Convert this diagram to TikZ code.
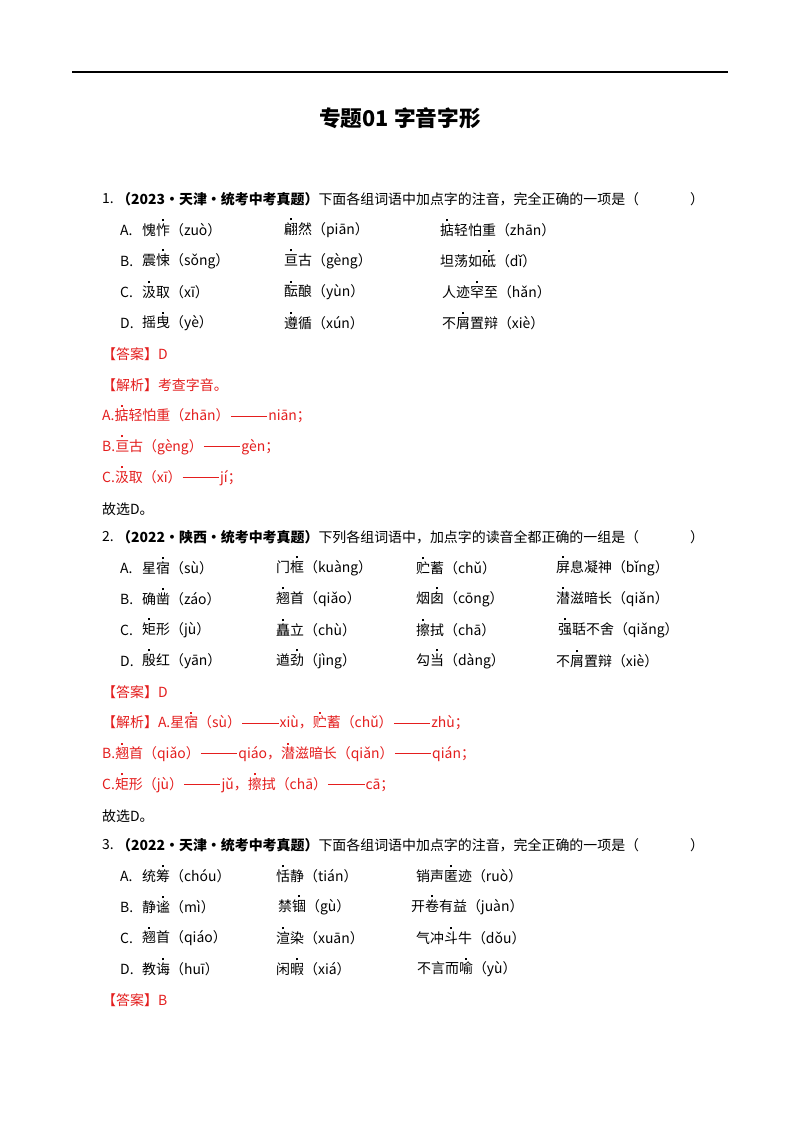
\documentclass[tikz,border=0pt]{standalone}
\usepackage{fontspec}
\setmainfont{Noto Sans CJK SC}
\usepackage{graphicx}
\definecolor{ansred}{RGB}{228,30,30}
\newcommand\dc[1]{\leavevmode\rlap{\makebox[1em][c]{\raisebox{1.0em}[0pt][0pt]{\rule{1.7pt}{1.7pt}}}}#1}
\newcommand\ddash{\kern1pt\raisebox{0.33em}{\rule{2.6em}{0.6pt}}\kern1pt}
\tikzset{t/.style={anchor=west,inner sep=0pt,font=\fontsize{11.9pt}{14pt}\selectfont},
 r/.style={t,text=ansred}}
\begin{document}
\begin{tikzpicture}[x=0.03cm,y=-0.03cm]
\useasboundingbox (0,0) rectangle (800,1132);
\fill[white] (0,0) rectangle (800,1132);
\draw[line width=1.6pt] (72,72) -- (728,72);
\node[inner sep=0pt,font=\fontsize{18.5pt}{22pt}\selectfont\bfseries] (title) at (400,118) {专题01 字音字形};
% Q1
\node[t] (q1n) at (102,199) {1.};
\node[t] (q1h) at (117,199) {\textbf{（2023•天津•统考中考真题）}下面各组词语中加点字的注音，完全正确的一项是（};
\node[t] (q1e) at (690,199) {）};
\node[t] (q1A) at (120,230) {A.};
\node[t] (q1A1) at (142,230) {愧\dc{怍}（zuò）};
\node[t] (q1A2) at (284,230) {\dc{翩}然（piān）};
\node[t] (q1A3) at (440,230) {\dc{掂}轻怕重（zhān）};
\node[t] (q1B) at (120,261) {B.};
\node[t] (q1B1) at (142,261) {震\dc{悚}（sǒng）};
\node[t] (q1B2) at (284,261) {\dc{亘}古（gèng）};
\node[t] (q1B3) at (440,261) {坦荡如\dc{砥}（dǐ）};
\node[t] (q1C) at (120,292) {C.};
\node[t] (q1C1) at (142,292) {\dc{汲}取（xī）};
\node[t] (q1C2) at (284,292) {\dc{酝}酿（yùn）};
\node[t] (q1C3) at (442,292) {人迹\dc{罕}至（hǎn）};
\node[t] (q1D) at (120,323) {D.};
\node[t] (q1D1) at (142,323) {摇\dc{曳}（yè）};
\node[t] (q1D2) at (284,323) {\dc{遵}循（xún）};
\node[t] (q1D3) at (442,323) {不\dc{屑}置辩（xiè）};
\node[r] (q1ans) at (102,354) {【答案】D};
\node[r] (q1jx) at (102,385) {【解析】考查字音。};
\node[r] (q1j1) at (102,416) {A.\dc{掂}轻怕重（zhān）\ddash niān；};
\node[r] (q1j2) at (102,447) {B.\dc{亘}古（gèng）\ddash gèn；};
\node[r] (q1j3) at (102,478) {C.\dc{汲}取（xī）\ddash jí；};
\node[t] (q1g) at (102,509) {故选D。};
% Q2
\node[t] (q2n) at (102,537) {2.};
\node[t] (q2h) at (117,537) {\textbf{（2022•陕西•统考中考真题）}下列各组词语中，加点字的读音全都正确的一组是（};
\node[t] (q2e) at (690,537) {）};
\node[t] (q2A) at (120,568) {A.};
\node[t] (q2A1) at (142,568) {星\dc{宿}（sù）};
\node[t] (q2A2) at (276,568) {门\dc{框}（kuàng）};
\node[t] (q2A3) at (416,568) {\dc{贮}蓄（chǔ）};
\node[t] (q2A4) at (556,568) {\dc{屏}息凝神（bǐng）};
\node[t] (q2B) at (120,599) {B.};
\node[t] (q2B1) at (142,599) {确\dc{凿}（záo）};
\node[t] (q2B2) at (276,599) {\dc{翘}首（qiǎo）};
\node[t] (q2B3) at (416,599) {烟\dc{囱}（cōng）};
\node[t] (q2B4) at (556,599) {\dc{潜}滋暗长（qiǎn）};
\node[t] (q2C) at (120,630) {C.};
\node[t] (q2C1) at (142,630) {\dc{矩}形（jù）};
\node[t] (q2C2) at (276,630) {\dc{矗}立（chù）};
\node[t] (q2C3) at (416,630) {\dc{擦}拭（chā）};
\node[t] (q2C4) at (558,630) {\dc{强}聒不舍（qiǎng）};
\node[t] (q2D) at (120,661) {D.};
\node[t] (q2D1) at (142,661) {\dc{殷}红（yān）};
\node[t] (q2D2) at (276,661) {遒\dc{劲}（jìng）};
\node[t] (q2D3) at (416,661) {勾\dc{当}（dàng）};
\node[t] (q2D4) at (556,661) {不\dc{屑}置辩（xiè）};
\node[r] (q2ans) at (102,692) {【答案】D};
\node[r] (q2j1) at (102,723) {【解析】A.星\dc{宿}（sù）\ddash xiù，\dc{贮}蓄（chǔ）\ddash zhù；};
\node[r] (q2j2) at (102,754) {B.\dc{翘}首（qiǎo）\ddash qiáo，\dc{潜}滋暗长（qiǎn）\ddash qián；};
\node[r] (q2j3) at (102,785) {C.\dc{矩}形（jù）\ddash jǔ，\dc{擦}拭（chā）\ddash cā；};
\node[t] (q2g) at (102,816) {故选D。};
% Q3
\node[t] (q3n) at (102,845) {3.};
\node[t] (q3h) at (117,845) {\textbf{（2022•天津•统考中考真题）}下面各组词语中加点字的注音，完全正确的一项是（};
\node[t] (q3e) at (690,845) {）};
\node[t] (q3A) at (120,876) {A.};
\node[t] (q3A1) at (142,876) {统\dc{筹}（chóu）};
\node[t] (q3A2) at (276,876) {\dc{恬}静（tián）};
\node[t] (q3A3) at (416,876) {销声\dc{匿}迹（ruò）};
\node[t] (q3B) at (120,907) {B.};
\node[t] (q3B1) at (142,907) {静\dc{谧}（mì）};
\node[t] (q3B2) at (278,907) {禁\dc{锢}（gù）};
\node[t] (q3B3) at (411,907) {开\dc{卷}有益（juàn）};
\node[t] (q3C) at (120,938) {C.};
\node[t] (q3C1) at (142,938) {\dc{翘}首（qiáo）};
\node[t] (q3C2) at (276,938) {\dc{渲}染（xuān）};
\node[t] (q3C3) at (416,938) {气冲\dc{斗}牛（dǒu）};
\node[t] (q3D) at (120,969) {D.};
\node[t] (q3D1) at (142,969) {教\dc{诲}（huī）};
\node[t] (q3D2) at (276,969) {闲\dc{暇}（xiá）};
\node[t] (q3D3) at (417,969) {不言而\dc{喻}（yù）};
\node[r] (q3ans) at (102,1000) {【答案】B};
\end{tikzpicture}
\end{document}
